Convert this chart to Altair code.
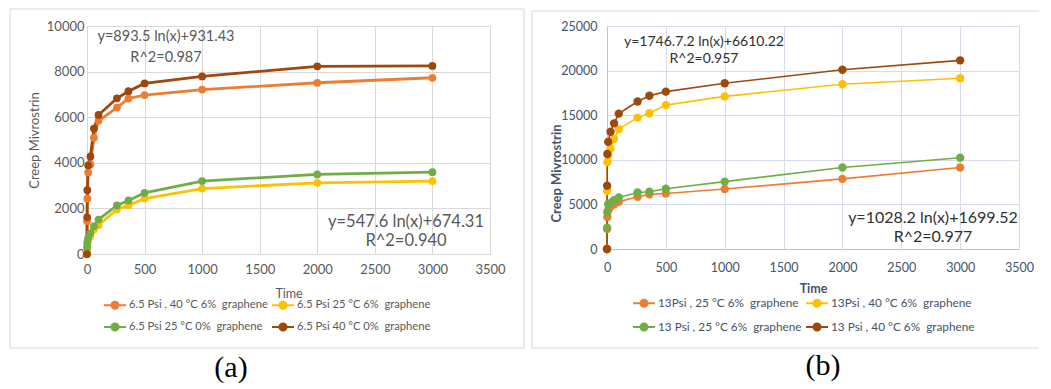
import altair as alt
import pandas as pd

# ---------------- data ----------------
times = [0, 1, 3, 10, 30, 60, 100, 260, 360, 500, 1000, 2000, 3000]

a_labels = ["6.5 Psi , 40 °C 6%  graphene", "6.5 Psi 25 °C 6%  graphene",
            "6.5 Psi 25 °C 0%  graphene", "6.5 Psi 40 °C 0%  graphene"]
a_orange = [0, 1440, 2430, 3580, 3930, 5100, 5840, 6420, 6820, 6970, 7210, 7510, 7730]
a_yellow = [0, 200, 420, 600, 780, 1070, 1260, 1950, 2140, 2430, 2870, 3120, 3200]
a_green = [0, 300, 520, 700, 920, 1220, 1510, 2130, 2350, 2680, 3200, 3490, 3590]
a_brown = [0, 1610, 2800, 3890, 4280, 5500, 6100, 6830, 7140, 7480, 7790, 8230, 8250]

b_labels = ["13Psi , 25 °C 6%  graphene", "13Psi , 40 °C 6%  graphene",
            "13 Psi , 25 °C 6%  graphene", "13 Psi , 40 °C 6%  graphene"]
b_orange = [0, 2230, 3590, 4340, 4720, 5020, 5290, 5850, 6120, 6230, 6720, 7860, 9140]
b_yellow = [0, 6490, 9740, 10500, 11250, 12350, 13440, 14730, 15220, 16130, 17110, 18470, 19150]
b_green = [0, 2380, 4120, 5020, 5170, 5480, 5780, 6340, 6420, 6760, 7550, 9140, 10230]
b_brown = [0, 7100, 10650, 12010, 13140, 14090, 15180, 16540, 17180, 17640, 18580, 20090, 21150]

x_ticks = [0, 500, 1000, 1500, 2000, 2500, 3000, 3500]
a_y_ticks = [0, 2000, 4000, 6000, 8000, 10000]
b_y_ticks = [0, 5000, 10000, 15000, 20000, 25000]

a_eq = ["y=893.5 ln(x)+931.43", "R^2=0.987", "y=547.6 ln(x)+674.31", "R^2=0.940"]
b_eq = ["y=1746.7.2 ln(x)+6610.22", "R^2=0.957", "y=1028.2 ln(x)+1699.52", "R^2=0.977"]

colors = ["#ED7D31", "#FFC000", "#70AD47", "#9E480E"]

FONT = "Lato"
SYMBOL = "M-1,0H1M-0.32,0A0.32,0.32,0,1,1,0.32,0A0.32,0.32,0,1,1,-0.32,0Z"


def show(lab):
    # keep the double space visible in SVG
    return lab.replace("  ", "\u00a0 ")


def long_df(labels, series):
    rows = []
    for lab, vals in zip(labels, series):
        for t, v in zip(times, vals):
            rows.append({"time": t, "strain": v, "series": show(lab)})
    return pd.DataFrame(rows)


one = pd.DataFrame({"k": [0]})


def text_at(txt, x, y, size, color, font=FONT, weight="normal"):
    return alt.Chart(one).mark_text(
        text=txt, font=font, fontSize=size, color=color, align="center",
        baseline="middle", fontWeight=weight
    ).encode(x=alt.value(x), y=alt.value(y))


def border(x1, x2, y1, y2, col, sides):
    layers = []
    if "top" in sides:
        layers.append(alt.Chart(one).mark_rule(color=col, strokeWidth=1).encode(
            x=alt.value(x1), x2=alt.value(x2), y=alt.value(y1)))
    if "bottom" in sides:
        layers.append(alt.Chart(one).mark_rule(color=col, strokeWidth=1).encode(
            x=alt.value(x1), x2=alt.value(x2), y=alt.value(y2)))
    if "left" in sides:
        layers.append(alt.Chart(one).mark_rule(color=col, strokeWidth=1).encode(
            x=alt.value(x1), y=alt.value(y1), y2=alt.value(y2)))
    if "right" in sides:
        layers.append(alt.Chart(one).mark_rule(color=col, strokeWidth=1).encode(
            x=alt.value(x2), y=alt.value(y1), y2=alt.value(y2)))
    return layers


def panel(df, labels, yticks, grid, domain_col, label_col, title_col,
          title_weight, line_w, pt_size, lab_pad_x, lab_pad_y, ytitle_x, ytitle_y,
          leg_x, leg_y, leg_row_pad, leg_col_pad, leg_size, lab_size, ylab_size):
    color = alt.Color(
        "series:N",
        scale=alt.Scale(domain=[show(l) for l in labels], range=colors),
        legend=alt.Legend(
            title=None, orient="none", legendX=leg_x, legendY=leg_y, direction="horizontal",
            columns=2, symbolType=SYMBOL, symbolSize=484, symbolStrokeWidth=2,
            labelFont=FONT, labelFontSize=leg_size, labelColor=label_col, labelOffset=2,
            rowPadding=leg_row_pad, columnPadding=leg_col_pad, padding=0, labelLimit=400,
        ),
    )
    x = alt.X(
        "time:Q", scale=alt.Scale(domain=[0, 3500], nice=False),
        axis=alt.Axis(values=x_ticks, format="d", title="Time", grid=True, gridColor=grid,
                      domainColor=domain_col, ticks=False, labelPadding=lab_pad_x, labelFont=FONT,
                      labelFontSize=lab_size, labelColor=label_col, titleFont=FONT, titleFontSize=12.5,
                      titleColor=title_col, titleFontWeight=title_weight, titleY=39,
                      titleBaseline="middle", labelFlush=False),
    )
    y = alt.Y(
        "strain:Q", scale=alt.Scale(domain=[0, yticks[-1]], nice=False),
        axis=alt.Axis(values=yticks, format="d", title="Creep Mivrostrin", grid=True, gridColor=grid,
                      domainColor=domain_col, ticks=False, labelPadding=lab_pad_y, labelFont=FONT,
                      labelFontSize=ylab_size, labelColor=label_col, titleFont=FONT, titleFontSize=13,
                      titleColor=title_col, titleFontWeight=title_weight, titleX=ytitle_x,
                      titleY=ytitle_y, titleBaseline="middle", labelFlush=False),
    )
    lines = alt.Chart(df).mark_line(strokeWidth=line_w).encode(x=x, y=y, color=color)
    pts = alt.Chart(df).mark_circle(size=pt_size, opacity=1).encode(x=x, y=y, color=color)
    return lines, pts


df_a = long_df(a_labels, [a_orange, a_yellow, a_green, a_brown])
df_b = long_df(b_labels, [b_orange, b_yellow, b_green, b_brown])

la, pa = panel(df_a, a_labels, a_y_ticks, "#d9d9d9", "#d9d9d9", "#595959", "#595959",
               "normal", 2.8, 60, 9, 3, -53, 114, 16, 267, 2, 0, 11.2, 13, 13)
lb, pb = panel(df_b, b_labels, b_y_ticks, "#d6dcec", "#b8c4dc", "#44546a", "#44546a",
               "bold", 1.6, 70, 12, 10, -51, 147, 25, 265, 4, 0, 11.8, 12.5, 12.5)

GRAY = "#595959"
DARK = "#303030"
ann_a = [
    text_at(a_eq[0], 79, 11, 14.5, GRAY), text_at(a_eq[1], 79, 32, 14.5, GRAY),
    text_at(a_eq[2], 319, 196, 16.5, GRAY), text_at(a_eq[3], 319, 215, 16.5, GRAY),
    text_at("(a)", 144, 342, 30, "#000000", font="Liberation Serif"),
]
ann_b = [
    text_at(b_eq[0], 97, 16, 14, DARK), text_at(b_eq[1], 97, 33, 14, DARK),
    text_at(b_eq[2], 326, 192, 16, DARK), text_at(b_eq[3], 326, 211, 16, DARK),
    text_at("(b)", 216, 340, 30, "#000000", font="Liberation Serif"),
]

chart_a = alt.layer(
    *border(-77, 437, -17, 322, "#d9d9d9", ["top", "bottom", "left", "right"]),
    la, pa, *ann_a
).properties(width=403, height=228, view=alt.ViewBackground(stroke="#d9d9d9"))

chart_b = alt.layer(
    *border(-75, 432, -15, 322, "#d9d9d9", ["top", "bottom", "left"]),
    lb, pb, *ann_b
).properties(width=412, height=223, view=alt.ViewBackground(stroke="#d6dcec"))

chart = alt.hconcat(chart_a, chart_b, spacing=117, bounds="flush").resolve_scale(
    color="independent", x="independent", y="independent"
).properties(
    padding={"left": 1, "top": 0, "right": 0, "bottom": 0},
    background="white",
)

chart.save("out.html", embed_options={"renderer": "svg", "actions": False})
